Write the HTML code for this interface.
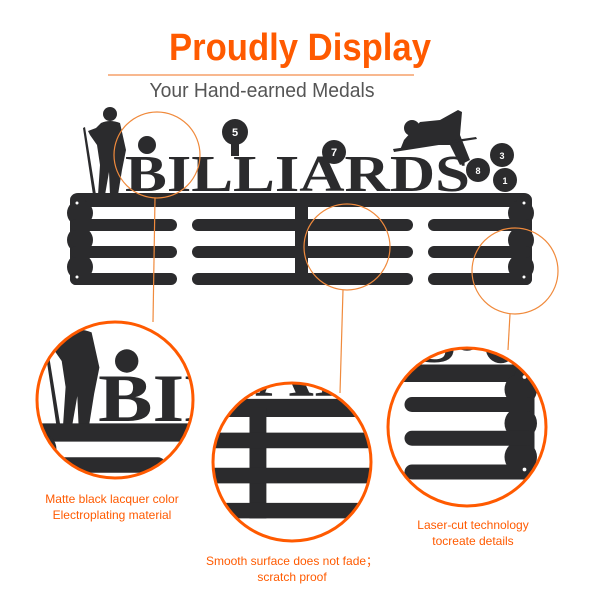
<!DOCTYPE html>
<html><head><meta charset="utf-8"><style>
html,body{margin:0;padding:0;background:#fff;width:600px;height:600px;overflow:hidden}
svg{display:block}
</style></head><body>
<svg width="600" height="600" viewBox="0 0 600 600" xmlns="http://www.w3.org/2000/svg">
<defs>
<g id="rack" fill="#2b2b2d">
  <!-- standing player -->
  <circle cx="110" cy="114" r="7"/>
  <path d="M101 123 Q110 119 120 123 L126 150 L122 170 L118 195 L110 195 L109 172 L105 195 L98 195 L100 165 L97 145 L90 135 L88 131 L96 128 Z"/>
  <path d="M83 128 L85 127 L96 195 L93 195 Z"/>
  <!-- balls -->
  <circle cx="147" cy="145" r="9"/>
  <circle cx="235" cy="132" r="13"/><rect x="231" y="140" width="8" height="16"/>
  <circle cx="334" cy="152" r="12"/>
  <circle cx="502" cy="155" r="12"/>
  <circle cx="478" cy="170" r="12"/>
  <circle cx="505" cy="180" r="12"/>
  <!-- lying player -->
  <circle cx="412" cy="128" r="8"/>
  <path d="M404 140 L420 122 L440 120 L458 110 L462 112 L460 135 L470 160 L460 165 L450 145 L425 145 L400 150 Z"/>
  <path d="M393 149 L476 137 L477 139 L394 152 Z"/>
  <text x="125" y="191" font-family="Liberation Serif, serif" font-weight="bold" font-size="52" textLength="345" lengthAdjust="spacingAndGlyphs">BILLIARDS</text>
  <!-- plate -->
  <rect x="70" y="193" width="462" height="14" rx="8"/>
  <circle cx="80" cy="213" r="13"/><circle cx="80" cy="240" r="13"/><circle cx="80" cy="267" r="13"/>
  <circle cx="521" cy="213" r="13"/><circle cx="521" cy="240" r="13"/><circle cx="521" cy="267" r="13"/>
  <rect x="70" y="196" width="16" height="89" rx="6"/>
  <rect x="516" y="196" width="16" height="89" rx="6"/>
  <rect x="295" y="200" width="13" height="85"/>
  <rect x="70" y="219" width="107" height="12" rx="6"/>
  <rect x="192" y="219" width="221" height="12" rx="6"/>
  <rect x="428" y="219" width="104" height="12" rx="6"/>
  <rect x="70" y="246" width="107" height="12" rx="6"/>
  <rect x="192" y="246" width="221" height="12" rx="6"/>
  <rect x="428" y="246" width="104" height="12" rx="6"/>
  <rect x="70" y="273" width="107" height="12" rx="6"/>
  <rect x="192" y="273" width="221" height="12" rx="6"/>
  <rect x="428" y="273" width="104" height="12" rx="6"/>
  <circle cx="77" cy="203" r="1.5" fill="#fff"/><circle cx="524" cy="203" r="1.5" fill="#fff"/>
  <circle cx="77" cy="277" r="1.5" fill="#fff"/><circle cx="524" cy="277" r="1.5" fill="#fff"/>
</g>
<clipPath id="c1"><circle cx="115" cy="400" r="78"/></clipPath>
<clipPath id="c2"><circle cx="292" cy="462" r="79"/></clipPath>
<clipPath id="c3"><circle cx="467" cy="427" r="79"/></clipPath>
</defs>

<text x="300" y="60" text-anchor="middle" font-family="Liberation Sans, sans-serif" font-weight="bold" font-size="38" fill="#ff5a00" textLength="262" lengthAdjust="spacingAndGlyphs">Proudly Display</text>
<line x1="108" y1="75" x2="414" y2="75" stroke="#f5a06a" stroke-width="1.5"/>
<text x="262" y="97" text-anchor="middle" font-family="Liberation Sans, sans-serif" font-size="20" fill="#555" textLength="225" lengthAdjust="spacingAndGlyphs">Your Hand-earned Medals</text>

<use href="#rack"/>
<g fill="#fff" font-family="Liberation Sans, sans-serif" font-weight="bold" font-size="11" text-anchor="middle">
<text x="235" y="136">5</text><text x="334" y="156">7</text><text x="502" y="159" font-size="9">3</text><text x="478" y="174" font-size="9">8</text><text x="505" y="184" font-size="9">1</text>
</g>

<!-- thin circles & connectors -->
<g fill="none" stroke="#f08a3c" stroke-width="1.2">
<circle cx="157" cy="155" r="43"/>
<circle cx="347" cy="247" r="43"/>
<circle cx="515" cy="271" r="43"/>
<line x1="155" y1="198" x2="153" y2="322"/>
<line x1="343" y1="290" x2="340" y2="393"/>
<line x1="510" y1="314" x2="508" y2="350"/>
</g>

<!-- zoom circles -->
<g clip-path="url(#c1)"><rect x="0" y="300" width="250" height="200" fill="#fff"/>
<use href="#rack" transform="translate(115 400) scale(1.3) translate(-138 -175)"/></g>
<g clip-path="url(#c2)"><rect x="200" y="370" width="200" height="200" fill="#fff"/>
<use href="#rack" transform="translate(292 462) scale(1.3) translate(-327.7 -241.6)"/></g>
<g clip-path="url(#c3)"><rect x="380" y="340" width="200" height="200" fill="#fff"/>
<use href="#rack" transform="translate(467 427) scale(1.25) translate(-478 -243)"/></g>
<g fill="none" stroke="#ff5a00" stroke-width="3">
<circle cx="115" cy="400" r="78"/>
<circle cx="292" cy="462" r="79"/>
<circle cx="467" cy="427" r="79"/>
</g>

<g font-family="Liberation Sans, 'Noto Sans CJK SC', sans-serif" font-size="12" fill="#ff5a00" text-anchor="middle">
<text x="112" y="503">Matte black lacquer color</text>
<text x="112" y="519">Electroplating material</text>
<text x="292" y="565">Smooth surface does not fade；</text>
<text x="292" y="581">scratch proof</text>
<text x="473" y="529">Laser-cut technology</text>
<text x="473" y="545">tocreate details</text>
</g>
</svg>
</body></html>
